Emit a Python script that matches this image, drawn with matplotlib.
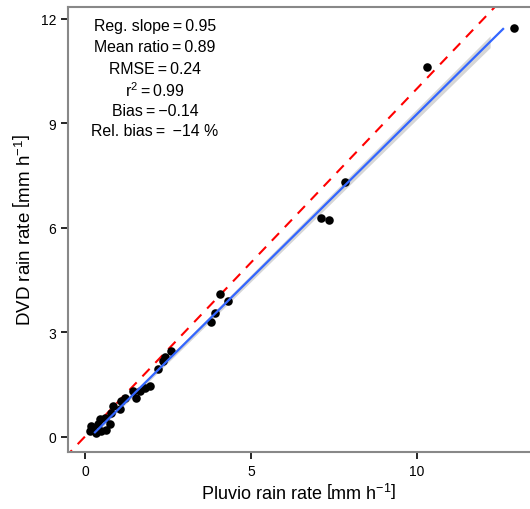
import matplotlib
matplotlib.use("Agg")
import matplotlib.pyplot as plt
import numpy as np

plt.rcParams['font.family'] = ['Liberation Sans', 'DejaVu Sans']
plt.rcParams['mathtext.fontset'] = 'custom'
plt.rcParams['mathtext.rm'] = 'Liberation Sans'
plt.rcParams['mathtext.it'] = 'Liberation Sans:italic'
plt.rcParams['mathtext.default'] = 'regular'

# Data
pluvio = [0.14, 0.19, 0.24, 0.34, 0.39, 0.44, 0.49, 0.59, 0.64, 0.74, 0.79, 0.84,
          1.04, 1.09, 1.19, 1.45, 1.55, 1.65, 1.80, 1.95, 2.20, 2.35, 2.42, 2.58,
          3.79, 3.90, 4.07, 4.30, 7.11, 7.35, 7.83, 10.30, 12.92]
dvd = [0.15, 0.30, 0.20, 0.10, 0.35, 0.49, 0.15, 0.54, 0.20, 0.35, 0.68, 0.87,
       0.78, 1.02, 1.11, 1.30, 1.11, 1.30, 1.40, 1.45, 1.93, 2.17, 2.28, 2.45,
       3.30, 3.56, 4.09, 3.88, 6.27, 6.22, 7.31, 10.62, 11.74]

reg_x = [0.3, 12.59]
reg_slope = 0.943
reg_intercept = -0.163
band_x = [0.3, 12.2]
band_half = [0.05, 0.17]

eq = "\u2009=\u2009"
stats_text = ["Reg. slope" + eq + "0.95", "Mean ratio" + eq + "0.89", "RMSE" + eq + "0.24",
              "r$^2$" + eq + "0.99", "Bias" + eq + "\u22120.14", "Rel. bias" + eq + " \u221214 %"]

xticks = [0, 5, 10]
yticks = [0, 3, 6, 9, 12]

fig = plt.figure(figsize=(5.3, 5.1), dpi=100)
ax = fig.add_axes([68/530, 1-453/510, 1-68/530, (453-8)/510])

xlim = (-0.512, 13.40)
ylim = (-0.445, 12.34)

# 1:1 line
lx = np.array([-1, 14])
ax.plot(lx, lx, color='red', ls=(0, (5, 4)), lw=1.5, zorder=2)

# regression band and line
bx = np.linspace(band_x[0], band_x[1], 50)
bh = np.interp(bx, band_x, band_half)
by = reg_slope * bx + reg_intercept
ax.fill_between(bx, by - bh, by + bh, color='#999999', alpha=0.4, lw=0, zorder=1)
rx = np.array(reg_x)
ax.plot(rx, reg_slope * rx + reg_intercept, color='#3366FF', lw=1.6, zorder=4)

ax.scatter(pluvio, dvd, s=38, color='black', zorder=3, linewidths=0)

ax.set_xlim(*xlim)
ax.set_ylim(*ylim)
ax.set_xticks(xticks)
ax.set_yticks(yticks)
ax.tick_params(direction='out', length=5, width=1.2, color='black', labelsize=10)
ax.tick_params(axis='x', pad=4)
for s in ['left', 'top', 'bottom']:
    ax.spines[s].set_color('#888888')
    ax.spines[s].set_linewidth(1.5)
ax.spines['right'].set_visible(False)

ax.set_xlabel(r"Pluvio rain rate $\left[mm\ h^{-1}\right]$", fontsize=13, labelpad=3)
ax.set_ylabel(r"DVD rain rate $\left[mm\ h^{-1}\right]$", fontsize=13.5, labelpad=5)

ys = [26, 48, 70, 91, 112, 132]
for t, y in zip(stats_text, ys):
    fig.text(155/530, 1 - y/510, t, ha='center', va='center', fontsize=11.4)

fig.savefig("out.png", dpi=100)
